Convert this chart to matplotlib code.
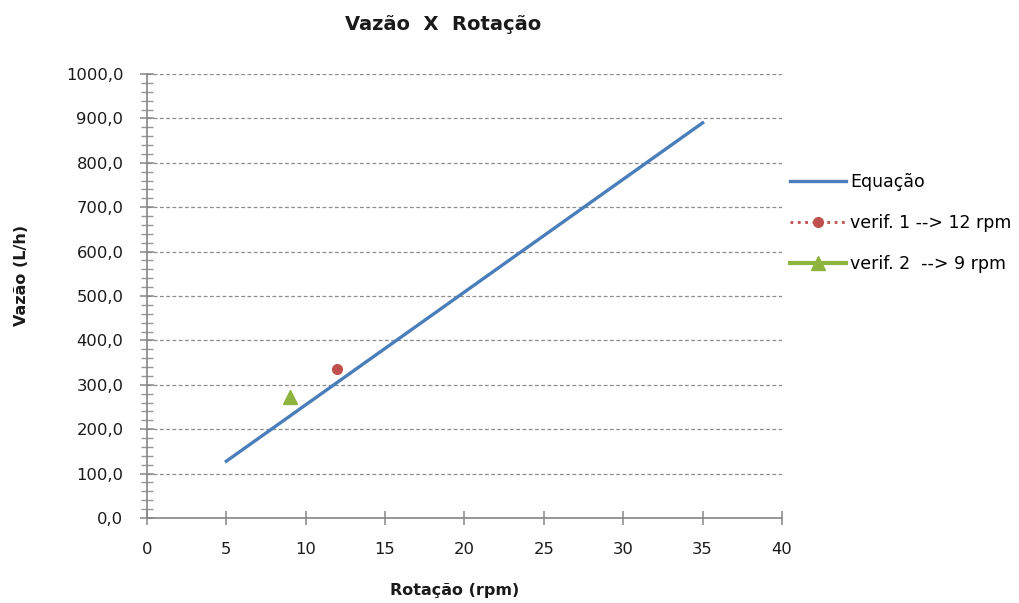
import matplotlib
matplotlib.use("Agg")
import matplotlib.pyplot as plt
from matplotlib.ticker import MultipleLocator, FuncFormatter

plt.rcParams['font.family'] = ['DejaVu Sans']

# curva da equação e pontos de verificação
rotacao_eq = [5, 35]
vazao_eq = [128, 890]

rotacao_v1 = [12]
vazao_v1 = [335]

rotacao_v2 = [9]
vazao_v2 = [272]

fig = plt.figure(figsize=(10.2, 6.03), dpi=100)
ax = fig.add_axes([147/1020, 1 - 518/603, (782-147)/1020, (518-74)/603])

ax.plot(rotacao_eq, vazao_eq, color='#4a7ebb', lw=2.4, label='Equação', zorder=3)
ax.plot(rotacao_v1, vazao_v1, color='#c0504d', ls=':', lw=2, marker='o', ms=7,
        label='verif. 1 --> 12 rpm', zorder=4)
ax.plot(rotacao_v2, vazao_v2, color='#8db43e', lw=3, marker='^', ms=10,
        label='verif. 2  --> 9 rpm', zorder=4)

ax.set_xlim(0, 40)
ax.set_ylim(0, 1000)
ax.xaxis.set_major_locator(MultipleLocator(5))
ax.yaxis.set_major_locator(MultipleLocator(100))
ax.yaxis.set_minor_locator(MultipleLocator(20))
ax.yaxis.set_major_formatter(FuncFormatter(lambda v, p: f"{v:.1f}".replace('.', ',')))

ax.grid(axis='y', which='major', color='#8c8c8c', ls=(0, (3, 2)), lw=0.9)
for s in ['top', 'right']:
    ax.spines[s].set_visible(False)
for s in ['left', 'bottom']:
    ax.spines[s].set_color('#868686')
    ax.spines[s].set_linewidth(1.2)

ax.tick_params(axis='both', which='major', direction='inout', length=10, width=1.1,
               color='#868686', labelsize=11.8, labelcolor='#1a1a1a')
ax.tick_params(axis='y', which='minor', direction='inout', length=8, width=1.0, color='#969696')
ax.tick_params(axis='x', pad=12)
ax.tick_params(axis='y', pad=12)

fig.text(443/1020, 1 - 24/603, 'Vazão  X  Rotação', ha='center', va='center',
         fontsize=14, fontweight='bold', color='#1a1a1a')
fig.text(22/1020, 1 - 275/603, 'Vazão (L/h)', ha='center', va='center', rotation=90,
         fontsize=11.5, fontweight='bold', color='#1a1a1a')
fig.text(455/1020, 1 - 591/603, 'Rotação (rpm)', ha='center', va='center',
         fontsize=11.5, fontweight='bold', color='#1a1a1a')

leg = fig.legend(loc='upper left', bbox_to_anchor=(787/1020, 1 - 170/603), frameon=False,
                 fontsize=12.5, handlelength=3.2, labelspacing=1.3, handletextpad=0.25,
                 borderaxespad=0, borderpad=0.2)

fig.savefig('out.png', dpi=100, facecolor='white')
